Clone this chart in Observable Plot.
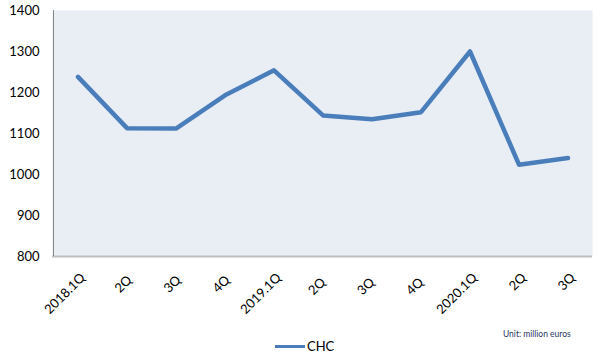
<!DOCTYPE html>
<html><head><meta charset="utf-8">
<script src="https://cdn.jsdelivr.net/npm/d3@7"></script>
<script src="https://cdn.jsdelivr.net/npm/@observablehq/plot@0.6"></script>
<style>
body{margin:0;background:#fff;font-family:Lato,"Liberation Sans",sans-serif;}
#wrap{position:relative;width:600px;height:356px;}
#legend{position:absolute;left:0;top:320px;width:600px;height:36px;}
.unit{position:absolute;left:503px;top:9px;font-size:8.5px;color:#1F3864;}
.lg{position:absolute;left:275px;top:18px;font-size:13px;color:#000;display:flex;align-items:center;}
.lg span.sw{display:inline-block;width:30px;height:3px;background:#4A7EBB;margin-right:2px;}
</style></head><body>
<div id="wrap"><div id="chart"></div>
<div id="legend"><div class="unit">Unit: million euros</div><div class="lg"><span class="sw"></span>CHC</div></div></div>
<script>
const quarters = ["2018.1Q","2Q ","3Q ","4Q ","2019.1Q","2Q  ","3Q  ","4Q  ","2020.1Q","2Q","3Q"];
const chc = [1238,1113,1112,1193,1254,1144,1135,1152,1300,1024,1040];
const yTicks = [800,900,1000,1100,1200,1300,1400];
const data = quarters.map((q,i)=>({q, v: chc[i]}));
const chart = Plot.plot({
  width:600, height:320,
  marginTop:10, marginLeft:52, marginRight:8, marginBottom:64,
  style:{fontFamily:"Lato, 'Liberation Sans', sans-serif", fontSize:"13px", color:"#000"},
  x:{type:"band", domain:quarters, padding:0, align:0.5, label:null},
  y:{domain:[800,1400], label:null},
  marks:[
    Plot.frame({fill:"#E9EDF4", stroke:null}),
    Plot.axisY({ticks:yTicks, tickFormat:"d", tickSize:0, tickPadding:13, fontSize:13, label:null}),
    Plot.axisX({tickSize:0, tickRotate:-45, tickPadding:8, dx:5, dy:11, fontSize:13, label:null}),
    Plot.ruleY([800], {stroke:"#BFBFBF", strokeWidth:2}),
    Plot.ruleX([0], {x:()=>quarters[0], dx:-24.5, stroke:"#868686", strokeWidth:1}),
    Plot.line(data, {x:"q", y:"v", stroke:"#4A7EBB", strokeWidth:4.5, strokeLinejoin:"round", strokeLinecap:"round"})
  ]
});
document.getElementById("chart").appendChild(chart);
</script>
</body></html>
